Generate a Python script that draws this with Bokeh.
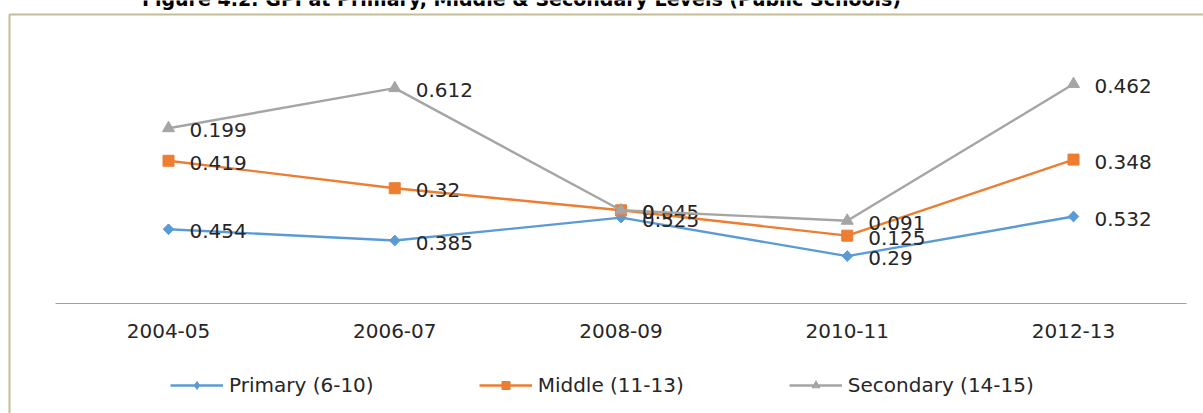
import math
from bokeh.plotting import figure
from bokeh.models import (ColumnDataSource, Range1d, Legend, LegendItem, Label,
                          BoxAnnotation, FixedTicker)
from bokeh.core.properties import value
from bokeh.embed import file_html
from bokeh.resources import INLINE

# ---- data ----
years = ["2004-05", "2006-07", "2008-09", "2010-11", "2012-13"]
primary = [0.454, 0.385, 0.525, 0.29, 0.532]
middle = [0.419, 0.32, 0.045, 0.125, 0.348]
secondary = [0.199, 0.612, 0, 0.091, 0.462]
series_names = ["Primary (6-10)", "Middle (11-13)", "Secondary (14-15)"]
title_text = "Figure 4.2: GPI at Primary, Middle & Secondary Levels (Public Schools)"

colors = ["#5B9BD5", "#ED7D31", "#A5A5A5"]
FONT = "DejaVu Sans"
TXT = "#262626"

W, H = 1203, 413
# layout geometry (screen pixels)
cat_px = 226.25          # width of one category slot
first_px = 168           # centre of first category
zero_px = 303            # y pixel of value 0
px_per_unit = 163.5

xpos = list(range(len(years)))
x_start = -first_px / cat_px
x_end = x_start + W / cat_px
y_end = zero_px / px_per_unit
y_start = y_end - H / px_per_unit

p = figure(width=W, height=H, x_range=Range1d(x_start, x_end),
           y_range=Range1d(y_start, y_end),
           output_backend="svg", toolbar_location=None,
           min_border_left=0, min_border_right=0, min_border_top=0, min_border_bottom=0)
p.outline_line_color = None
p.xgrid.visible = False
p.ygrid.visible = False
p.yaxis.visible = False
p.background_fill_color = "white"
p.border_fill_color = "white"

ax = p.xaxis[0]
ax.fixed_location = 0
ax.bounds = (xpos[0] - 0.5, xpos[-1] + 0.5)
ax.ticker = FixedTicker(ticks=xpos)
ax.major_label_overrides = {i: y for i, y in zip(xpos, years)}
ax.axis_line_color = "#a0a0a0"
ax.axis_line_width = 1.2
ax.major_tick_line_color = None
ax.minor_tick_line_color = None
ax.major_label_standoff = 14
ax.major_label_text_font = FONT
ax.major_label_text_font_size = "20px"
ax.major_label_text_color = TXT

# chart-area border (continues beyond the visible window on right and bottom)
box = BoxAnnotation(left=9, right=W + 50, top=H - 14, bottom=-50,
                    left_units="screen", right_units="screen", top_units="screen",
                    bottom_units="screen", fill_alpha=0, line_alpha=1,
                    line_color="#c4bd97", line_width=2)
p.add_layout(box)

# stacked cumulative values
cum = [0.0] * len(years)
stacks = []
for vals in (primary, middle, secondary):
    cum = [c + v for c, v in zip(cum, vals)]
    stacks.append((vals, list(cum)))

markers = [dict(marker="square", angle=math.pi / 4, size=7.5, leg="diamond", leg_size=10.5),
           dict(marker="square", angle=0, size=11, leg=None, leg_size=None),
           dict(marker="triangle", angle=0, size=12, leg=None, leg_size=None)]

items = []
for (vals, cy), col, mk, name in zip(stacks, colors, markers, series_names):
    src = ColumnDataSource(dict(x=xpos, y=cy, lab=[f"{v:g}" for v in vals]))
    lr = p.line("x", "y", source=src, line_color=col, line_width=2.4)
    leg_r = None
    if mk["leg"]:
        # legend sample marker (fully covered by the rotated square drawn on top)
        leg_r = p.scatter("x", "y", source=src, marker=mk["leg"], size=mk["leg_size"],
                          fill_color=col, line_color=col)
    sr = p.scatter("x", "y", source=src, marker=mk["marker"], angle=mk["angle"],
                   size=mk["size"], fill_color=col, line_color=col)
    p.text("x", "y", text="lab", source=src, x_offset=21, y_offset=2,
           text_font=value(FONT), text_font_size="20px", text_color=TXT,
           text_baseline="middle", text_align="left")
    items.append(LegendItem(label=name, renderers=[lr, leg_r or sr]))

legend = Legend(items=items, orientation="horizontal", location=(170, 16),
                glyph_width=53, glyph_height=20, label_standoff=6, spacing=105,
                padding=0, margin=0, border_line_color=None, background_fill_alpha=0,
                label_text_font=FONT, label_text_font_size="20px", label_text_color=TXT)
p.add_layout(legend, "center")

# title, mostly cut off above the visible area
p.add_layout(Label(x=521, y=H + 2, x_units="screen", y_units="screen",
                   text=title_text, text_align="center", text_baseline="alphabetic",
                   text_font=FONT, text_font_style="bold", text_font_size="19px",
                   text_color="black"))

open("out.html", "w").write(file_html(p, INLINE))
